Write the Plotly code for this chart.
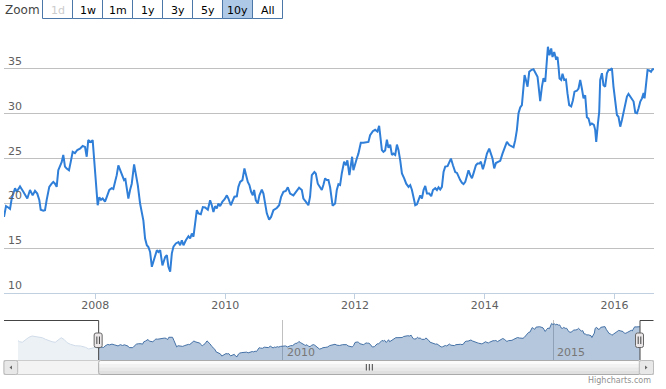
import numpy as np
import pandas as pd
import plotly.graph_objects as go

# ---------------- data (decimal years) ----------------
pre_years = [2005.10, 2005.13, 2005.18, 2005.24, 2005.30, 2005.36, 2005.42, 2005.49,
             2005.55, 2005.61, 2005.67, 2005.73, 2005.79, 2005.86, 2005.90, 2005.95,
             2006.01, 2006.07, 2006.16, 2006.26, 2006.35, 2006.41, 2006.47, 2006.53]
pre_values = [24.5, 23.7, 23.3, 25.0, 27.0, 28.0, 27.5, 27.0,
              26.7, 25.5, 24.5, 23.7, 23.3, 25.5, 26.7, 25.5,
              23.0, 21.8, 20.7, 20.5, 19.5, 18.25, 18.75, 19.5]

main_years = [
    2006.593, 2006.624, 2006.659, 2006.686, 2006.712, 2006.763, 2006.789, 2006.840, 2006.891, 2006.952,
    2006.994, 2007.035, 2007.071, 2007.106, 2007.137, 2007.159, 2007.199, 2007.225, 2007.251, 2007.291,
    2007.328, 2007.353, 2007.379, 2007.405, 2007.430, 2007.456, 2007.482, 2007.507, 2007.533, 2007.559,
    2007.595, 2007.621, 2007.652, 2007.687, 2007.723, 2007.764, 2007.806, 2007.842, 2007.868, 2007.892,
    2007.929, 2007.960, 2007.985, 2008.011, 2008.037, 2008.062, 2008.088, 2008.114, 2008.150, 2008.176,
    2008.216, 2008.253, 2008.278, 2008.304, 2008.330, 2008.355, 2008.392, 2008.416, 2008.443, 2008.463,
    2008.484, 2008.509, 2008.535, 2008.561, 2008.597, 2008.628, 2008.654, 2008.689, 2008.715, 2008.740,
    2008.766, 2008.793, 2008.817, 2008.843, 2008.870, 2008.894, 2008.920, 2008.947, 2008.971, 2008.998,
    2009.033, 2009.075, 2009.101, 2009.125, 2009.152, 2009.178, 2009.203, 2009.240, 2009.280, 2009.306,
    2009.332, 2009.357, 2009.394, 2009.434, 2009.460, 2009.486, 2009.511, 2009.537, 2009.563, 2009.588,
    2009.625, 2009.656, 2009.691, 2009.733, 2009.768, 2009.794, 2009.819, 2009.845, 2009.871, 2009.896,
    2009.922, 2009.958, 2009.989, 2010.026, 2010.050, 2010.087, 2010.118, 2010.143, 2010.180, 2010.204,
    2010.231, 2010.266, 2010.297, 2010.323, 2010.349, 2010.374, 2010.400, 2010.426, 2010.446, 2010.473,
    2010.503, 2010.528, 2010.565, 2010.590, 2010.616, 2010.642, 2010.678, 2010.708, 2010.744, 2010.796,
    2010.832, 2010.863, 2010.898, 2010.935, 2010.966, 2011.001, 2011.052, 2011.105, 2011.140, 2011.182,
    2011.206, 2011.243, 2011.283, 2011.309, 2011.336, 2011.376, 2011.397, 2011.428, 2011.464, 2011.490,
    2011.514, 2011.541, 2011.567, 2011.592, 2011.618, 2011.656, 2011.695, 2011.721, 2011.746, 2011.772,
    2011.798, 2011.834, 2011.864, 2011.884, 2011.915, 2011.937, 2011.957, 2011.977, 2012.003, 2012.029,
    2012.054, 2012.091, 2012.131, 2012.173, 2012.208, 2012.234, 2012.276, 2012.311, 2012.347, 2012.373,
    2012.388, 2012.415, 2012.439, 2012.465, 2012.492, 2012.516, 2012.543, 2012.569, 2012.593, 2012.620,
    2012.646, 2012.670, 2012.697, 2012.723, 2012.758, 2012.789, 2012.825, 2012.851, 2012.877, 2012.902,
    2012.928, 2012.954, 2012.979, 2013.005, 2013.031, 2013.056, 2013.082, 2013.108, 2013.144, 2013.174,
    2013.201, 2013.236, 2013.262, 2013.287, 2013.313, 2013.339, 2013.364, 2013.390, 2013.426, 2013.457,
    2013.478, 2013.509, 2013.544, 2013.571, 2013.595, 2013.621, 2013.648, 2013.672, 2013.699, 2013.725,
    2013.749, 2013.776, 2013.802, 2013.826, 2013.863, 2013.888, 2013.919, 2013.940, 2013.971, 2013.996,
    2014.033, 2014.068, 2014.095, 2014.119, 2014.145, 2014.172, 2014.212, 2014.238, 2014.273, 2014.315,
    2014.341, 2014.377, 2014.418, 2014.443, 2014.469, 2014.495, 2014.520, 2014.546, 2014.572, 2014.588,
    2014.613, 2014.634, 2014.659, 2014.685, 2014.716, 2014.751, 2014.777, 2014.813, 2014.828, 2014.854,
    2014.881, 2014.905, 2014.932, 2014.947, 2014.973, 2014.998, 2015.024, 2015.044, 2015.070, 2015.096,
    2015.121, 2015.137, 2015.152, 2015.178, 2015.198, 2015.224, 2015.251, 2015.275, 2015.301, 2015.332,
    2015.359, 2015.383, 2015.420, 2015.445, 2015.471, 2015.497, 2015.522, 2015.548, 2015.574, 2015.599,
    2015.625, 2015.651, 2015.682, 2015.702, 2015.718, 2015.744, 2015.764, 2015.779, 2015.806, 2015.830,
    2015.856, 2015.883, 2015.907, 2015.933, 2015.960, 2015.984, 2016.010, 2016.037, 2016.061, 2016.088,
    2016.114, 2016.138, 2016.165, 2016.191, 2016.215, 2016.242, 2016.268, 2016.293, 2016.319, 2016.345,
    2016.370, 2016.396, 2016.422, 2016.447, 2016.462, 2016.484, 2016.508, 2016.534, 2016.561, 2016.585,
    2016.607]
main_values = [
    18.5, 19.7, 19.55, 19.4, 20.55, 21.7, 21.3, 21.9, 21.3, 20.55,
    21.5, 20.9, 21.4, 21.1, 20.4, 19.3, 19.2, 19.25, 20.4, 21.85,
    22.2, 22.4, 22.2, 21.85, 23.7, 24.1, 24.6, 25.4, 24.1, 23.9,
    23.7, 24.6, 25.75, 25.6, 25.95, 26.1, 26.4, 26.3, 25.2, 27.05,
    26.85, 27.05, 24.8, 22.2, 19.8, 20.7, 20.4, 20.55, 20.2, 20.7,
    21.5, 21.7, 21.6, 22.4, 23.15, 24.25, 23.5, 23.15, 22.6, 22.7,
    21.7, 20.55, 21.5, 22.2, 24.35, 23.3, 22.05, 20.0, 19.1, 18.1,
    16.1, 15.35, 15.15, 14.6, 12.95, 13.5, 14.05, 14.8, 14.6, 14.8,
    13.1, 14.05, 14.25, 12.95, 12.4, 14.45, 15.2, 15.55, 15.7, 15.35,
    15.9, 15.35, 15.9, 16.35, 16.1, 16.65, 16.3, 17.75, 19.25, 18.9,
    18.8, 19.6, 19.55, 19.3, 20.35, 19.8, 19.05, 19.7, 19.45, 20.0,
    19.7, 20.2, 20.45, 20.9, 20.55, 19.8, 20.35, 20.75, 20.8, 21.85,
    22.4, 22.6, 23.9, 23.15, 22.4, 22.05, 21.3, 20.9, 21.5, 20.35,
    20.0, 20.9, 21.55, 21.1, 20.0, 18.9, 18.2, 18.5, 19.25, 19.5,
    19.8, 20.75, 21.3, 21.4, 21.8, 21.1, 20.9, 21.5, 21.75, 21.5,
    20.55, 20.2, 19.8, 20.75, 23.15, 23.5, 23.35, 22.2, 21.7, 21.5,
    22.05, 22.8, 22.6, 22.6, 21.8, 19.75, 20.0, 21.5, 22.15, 22.05,
    23.35, 24.65, 24.25, 24.8, 23.15, 24.25, 25.2, 23.7, 24.45, 25.0,
    25.55, 26.75, 26.75, 26.85, 26.85, 27.6, 28.05, 28.2, 28.0, 28.65,
    27.45, 25.95, 25.75, 25.9, 27.1, 26.2, 26.55, 25.4, 25.55, 25.4,
    26.55, 25.95, 24.8, 23.35, 22.8, 22.2, 21.85, 22.05, 21.5, 20.55,
    19.8, 19.9, 20.35, 20.9, 20.55, 21.5, 21.95, 21.1, 21.1, 20.8,
    21.5, 21.7, 21.5, 21.8, 21.55, 21.85, 23.5, 24.1, 24.15, 24.8,
    25.0, 24.25, 23.5, 23.4, 22.95, 22.6, 22.3, 22.15, 22.4, 22.95,
    23.7, 23.15, 22.8, 23.35, 24.25, 24.45, 24.45, 24.65, 23.8, 24.45,
    25.55, 26.1, 25.6, 25.0, 23.9, 24.5, 24.65, 24.75, 25.55, 26.5,
    26.85, 26.5, 26.3, 26.25, 27.05, 28.2, 30.05, 30.7, 30.95, 32.25,
    34.3, 33.75, 33.0, 34.65, 34.85, 34.95, 34.65, 34.1, 33.15, 31.4,
    33.0, 33.95, 33.55, 35.2, 37.45, 36.5, 37.25, 36.3, 36.85, 36.15,
    36.3, 35.2, 33.9, 33.75, 34.45, 33.75, 33.8, 32.25, 30.95, 30.8,
    31.5, 32.45, 32.55, 32.8, 33.75, 32.8, 31.7, 32.05, 29.6, 29.45,
    28.75, 28.9, 28.75, 28.2, 26.85, 28.9, 30.2, 33.75, 34.5, 33.15,
    33.0, 34.5, 34.85, 34.85, 35.05, 33.0, 31.7, 29.85, 29.65, 28.55,
    29.3, 30.05, 31.15, 31.9, 32.2, 31.9, 31.7, 31.35, 30.1, 30.05,
    30.6, 31.35, 31.7, 32.3, 31.7, 33.15, 34.85, 34.8, 34.65, 34.95,
    34.95]

y_ticks = [10, 15, 20, 25, 30, 35, 40]
y_labels = ["10", "15", "20", "25", "30", "35"]
x_tick_years = [2008, 2010, 2012, 2014, 2016]
nav_tick_years = [2010, 2015]
buttons = ["1d", "1w", "1m", "1y", "3y", "5y", "10y", "All"]
selected_button = "10y"
disabled_button = "1d"


def to_ts(y):
    yr = int(np.floor(y))
    a = pd.Timestamp(year=yr, month=1, day=1)
    b = pd.Timestamp(year=yr + 1, month=1, day=1)
    return a + (b - a) * (y - yr)


main_x = [to_ts(v) for v in main_years]
nav_x = [to_ts(v) for v in pre_years] + main_x
nav_y = pre_values + main_values

# ---------------- geometry ----------------
W, H = 666, 389
FONT = "DejaVu Sans"


def px(x):
    return x / W


def py(y):
    return 1 - y / H


MAIN_L, MAIN_R, MAIN_T, MAIN_B = 4, 654, 23.8, 293.3
NAV_L, NAV_R, NAV_T, NAV_B = 18, 640, 320, 360
SB_T, SB_B = 360.5, 374.5

fig = go.Figure()
fig.add_trace(go.Scatter(x=main_x, y=main_values, mode="lines",
                         line=dict(color="#2f7ed8", width=2),
                         xaxis="x", yaxis="y", hoverinfo="skip"))
fig.add_trace(go.Scatter(x=nav_x, y=nav_y, mode="lines", fill="tozeroy",
                         fillcolor="rgba(69,114,167,0.4)",
                         line=dict(color="#4572A7", width=1),
                         xaxis="x2", yaxis="y2", hoverinfo="skip"))

shapes = []
annotations = []


def rect(x0, y0, x1, y1, fill, line=None, lw=1):
    shapes.append(dict(type="rect", xref="paper", yref="paper",
                       x0=px(x0), x1=px(x1), y0=py(y1), y1=py(y0),
                       fillcolor=fill,
                       line=dict(color=line if line else "rgba(0,0,0,0)", width=lw if line else 0),
                       layer="above"))


def seg(x0, y0, x1, y1, color, lw=1):
    shapes.append(dict(type="line", xref="paper", yref="paper",
                       x0=px(x0), x1=px(x1), y0=py(y0), y1=py(y1),
                       line=dict(color=color, width=lw), layer="above"))


def rounded(x0, y0, x1, y1, r, fill, line, lw=1):
    p = (f"M {px(x0 + r)},{py(y0)} L {px(x1 - r)},{py(y0)} Q {px(x1)},{py(y0)} {px(x1)},{py(y0 + r)} "
         f"L {px(x1)},{py(y1 - r)} Q {px(x1)},{py(y1)} {px(x1 - r)},{py(y1)} "
         f"L {px(x0 + r)},{py(y1)} Q {px(x0)},{py(y1)} {px(x0)},{py(y1 - r)} "
         f"L {px(x0)},{py(y0 + r)} Q {px(x0)},{py(y0)} {px(x0 + r)},{py(y0)} Z")
    shapes.append(dict(type="path", xref="paper", yref="paper", path=p,
                       fillcolor=fill, line=dict(color=line, width=lw), layer="above"))


def tri(points, color):
    p = "M " + " L ".join(f"{px(a)},{py(b)}" for a, b in points) + " Z"
    shapes.append(dict(type="path", xref="paper", yref="paper", path=p,
                       fillcolor=color, line=dict(color=color, width=0), layer="above"))


# navigator pixel position of a timestamp
t0, t1 = nav_x[0], nav_x[-1]


def nav_px(t):
    return NAV_L + (t - t0) / (t1 - t0) * (NAV_R - NAV_L)


hl = nav_px(main_x[0])
hr = nav_px(main_x[-1])

# mask outside selection
rect(MAIN_L, NAV_T, hl, NAV_B, "rgba(255,255,255,0.75)")
# outline
seg(MAIN_L, NAV_T + 0.5, hl, NAV_T + 0.5, "#444444")
seg(hl, NAV_T + 0.5, hl, NAV_B, "#444444")
seg(hr, NAV_T + 0.5, hr, NAV_B, "#444444")
seg(hr, NAV_T + 0.5, MAIN_R - 0.5, NAV_T + 0.5, "#444444")

# scrollbar track
rect(MAIN_L, SB_T, MAIN_R - 0.5, SB_B, "#F3F3F3", "#CCCCCC")
# scrollbar bar (gradient approximated with bands)
bands = ["#FBFBFB", "#F2F2F2", "#E9E9E9", "#E0E0E0"]
bh = (SB_B - SB_T) / len(bands)
for i, c in enumerate(bands):
    rect(hl, SB_T + i * bh, hr, SB_T + (i + 1) * bh, c)
rounded(hl, SB_T, hr, SB_B, 2, "rgba(0,0,0,0)", "#AAAAAA")
cx = (hl + hr) / 2
for dx in (-3, 0, 3):
    seg(cx + dx, 364, cx + dx, 370.5, "#444444")
# scrollbar buttons
rounded(MAIN_L, SB_T, NAV_L - 0.3, SB_B, 2, "#E8E8E8", "#BBBBBB")
rounded(NAV_R - 0.7, SB_T, MAIN_R - 0.5, SB_B, 2, "#E8E8E8", "#BBBBBB")
tri([(9.5, 367.5), (12, 365.5), (12, 369.5)], "#666666")
tri([(647.5, 367.5), (645, 365.5), (645, 369.5)], "#666666")

# handles
for h in (hl, hr):
    rounded(h - 4.5, 333, h + 3.5, 347.5, 2, "#EBE7E8", "#666666")
    seg(h - 1.8, 336.5, h - 1.8, 344, "#444444")
    seg(h + 0.8, 336.5, h + 0.8, 344, "#444444")

# navigator year labels
for yv in nav_tick_years:
    annotations.append(dict(x=pd.Timestamp(year=yv, month=1, day=1), xref="x2",
                            y=py(352), yref="paper", text=str(yv), showarrow=False,
                            xanchor="left", yanchor="middle", xshift=2,
                            font=dict(family=FONT, size=11, color="#777777")))

# y-axis labels (inside, above gridlines)
for lab in y_labels:
    annotations.append(dict(x=px(5.5), xref="paper", y=float(lab), yref="y", text=lab,
                            showarrow=False, xanchor="left", yanchor="bottom", yshift=-1,
                            font=dict(family=FONT, size=11, color="#606060")))

# range selector
annotations.append(dict(x=px(3), xref="paper", y=py(10), yref="paper", text="Zoom",
                        showarrow=False, xanchor="left", yanchor="middle",
                        font=dict(family=FONT, size=12, color="#444444")))
bx0 = 42.5
for i, b in enumerate(buttons):
    x0 = bx0 + 30 * i
    fill = "#AEC9E8" if b == selected_button else "#FFFFFF"
    rect(x0, -2, x0 + 30, 18.5, fill, "#4A76A8")
    col = "#CCCCCC" if b == disabled_button else "#000000"
    annotations.append(dict(x=px(x0 + 15), xref="paper", y=py(10), yref="paper", text=b,
                            showarrow=False, xanchor="center", yanchor="middle",
                            font=dict(family=FONT, size=11, color=col)))

# credits
annotations.append(dict(x=px(653), xref="paper", y=py(380.5), yref="paper",
                        text="Highcharts.com", showarrow=False, xanchor="right",
                        yanchor="middle", font=dict(family=FONT, size=8, color="#909090")))

fig.update_layout(
    width=W, height=H, margin=dict(l=0, r=0, t=0, b=0),
    paper_bgcolor="white", plot_bgcolor="white", showlegend=False,
    xaxis=dict(domain=[px(MAIN_L), px(MAIN_R)], range=[main_x[0], main_x[-1]],
               tickvals=[pd.Timestamp(year=y, month=1, day=1) for y in x_tick_years],
               ticktext=[str(y) for y in x_tick_years],
               showgrid=False, showline=True, linecolor="#C0D0E0", linewidth=1,
               ticks="outside", ticklen=5, tickcolor="#C0D0E0", ticklabelstandoff=-4,
               tickfont=dict(family=FONT, size=11, color="#606060"),
               zeroline=False, fixedrange=True),
    yaxis=dict(domain=[py(MAIN_B), py(MAIN_T)], range=[10, 40], tickvals=y_ticks,
               showticklabels=False, showgrid=True, gridcolor="#C0C0C0", gridwidth=1,
               zeroline=False, showline=False, fixedrange=True),
    xaxis2=dict(domain=[px(NAV_L), px(NAV_R)], range=[t0, t1], anchor="y2",
                tickvals=[pd.Timestamp(year=y, month=1, day=1) for y in nav_tick_years],
                showticklabels=False, showgrid=True, gridcolor="#C0C0C0",
                showline=False, zeroline=False, ticks="", fixedrange=True),
    yaxis2=dict(domain=[py(NAV_B), py(NAV_T)], range=[10, 40], anchor="x2",
                showticklabels=False, showgrid=False, zeroline=False, showline=False,
                fixedrange=True),
    shapes=shapes, annotations=annotations,
)

fig.write_html("out.html", config={"displayModeBar": False},
               post_script="document.body.style.margin='0';document.body.style.overflow='hidden';")
